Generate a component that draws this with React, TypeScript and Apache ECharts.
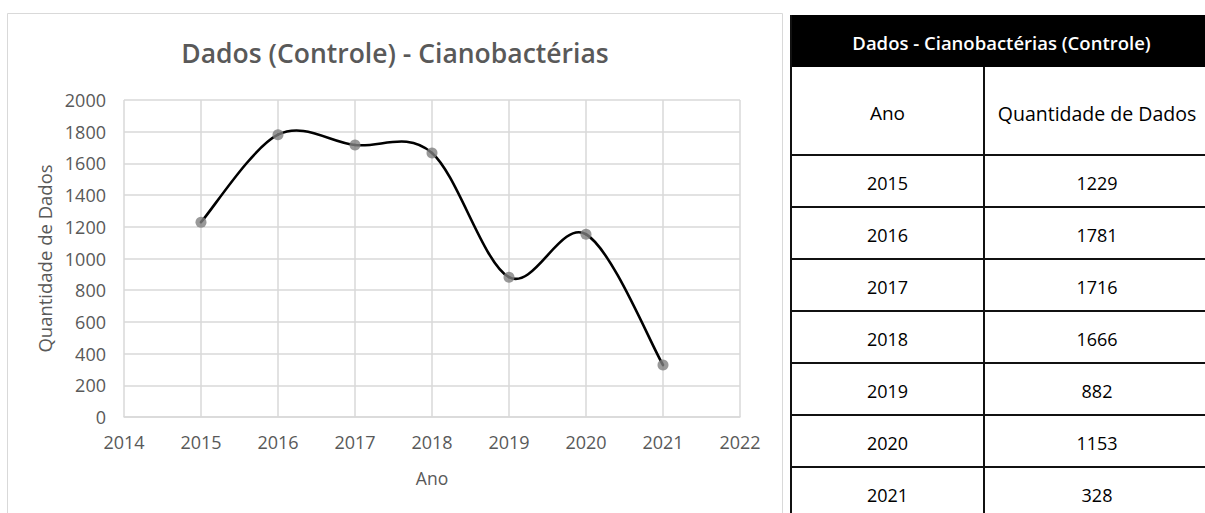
import React, { useEffect, useRef } from "react";
import * as echarts from "echarts";

// Yearly data counts (control) for cyanobacteria
const years: number[] = [2015, 2016, 2017, 2018, 2019, 2020, 2021];
const counts: number[] = [1229, 1781, 1716, 1666, 882, 1153, 328];

const chartTitle = "Dados (Controle) - Cianobactérias";
const tableTitle = "Dados - Cianobactérias (Controle)";
const xAxisName = "Ano";
const yAxisName = "Quantidade de Dados";
const tableHeaders: string[] = ["Ano", "Quantidade de Dados"];

const FONT = "'Open Sans', 'Noto Sans', sans-serif";
const GREY_TEXT = "#595959";
const GRID_GREY = "#d9d9d9";

function buildTable(): any[] {
  const left = 791;
  const right = 1216;
  const colDiv = 984;
  const top = 15;
  const headerBottom = 67;
  const labelRowBottom = 155;
  const rowH = 52;
  const bottom = 530;
  const col1 = (left + colDiv) / 2;
  const col2 = (colDiv + right) / 2 - 3;
  const els: any[] = [];

  els.push({
    type: "rect",
    shape: { x: left, y: top, width: right - left, height: headerBottom - top },
    style: { fill: "#000" },
  });
  els.push({
    type: "text",
    style: {
      text: tableTitle,
      x: (left + right) / 2 - 2,
      y: (top + headerBottom) / 2 + 1,
      align: "center",
      verticalAlign: "middle",
      textAlign: "center",
      textVerticalAlign: "middle",
      fill: "#fff",
      fontSize: 18.5,
      fontWeight: 600,
      fontFamily: FONT,
    },
  });

  const lineStyle = { stroke: "#111", lineWidth: 2 };
  els.push({ type: "line", shape: { x1: left, y1: top, x2: left, y2: bottom }, style: lineStyle });
  els.push({ type: "line", shape: { x1: colDiv, y1: headerBottom, x2: colDiv, y2: bottom }, style: lineStyle });
  els.push({ type: "line", shape: { x1: left, y1: labelRowBottom, x2: right, y2: labelRowBottom }, style: lineStyle });

  const cellText = (text: string, x: number, y: number, size: number) => ({
    type: "text",
    style: {
      text,
      x,
      y,
      align: "center",
      verticalAlign: "middle",
      textAlign: "center",
      textVerticalAlign: "middle",
      fill: "#000",
      fontSize: size,
      fontWeight: 400,
      fontFamily: FONT,
    },
  });

  const headerY = (headerBottom + labelRowBottom) / 2 + 2;
  els.push(cellText(tableHeaders[0], col1, headerY, 19));
  els.push(cellText(tableHeaders[1], col2, headerY, 19.5));

  years.forEach((yr, i) => {
    const rTop = labelRowBottom + i * rowH;
    const rBottom = rTop + rowH;
    const cy = (rTop + rBottom) / 2 + 2;
    els.push(cellText(String(yr), col1, cy, 18));
    els.push(cellText(String(counts[i]), col2, cy, 18));
    els.push({ type: "line", shape: { x1: left, y1: rBottom, x2: right, y2: rBottom }, style: lineStyle });
  });

  return els;
}

// Smoothed segment between point i and i+1 (Catmull-Rom style Bezier in pixel space)
function renderSmoothSegment(params: any, api: any) {
  const i = params.dataIndex;
  const n = years.length;
  if (i >= n - 1) return null;
  const pts = years.map((y, k) => api.coord([y, counts[k]]));
  const p0 = pts[Math.max(i - 1, 0)];
  const p1 = pts[i];
  const p2 = pts[i + 1];
  const p3 = pts[Math.min(i + 2, n - 1)];
  const t = 1 / 6;
  return {
    type: "bezierCurve",
    shape: {
      x1: p1[0],
      y1: p1[1],
      cpx1: p1[0] + (p2[0] - p0[0]) * t,
      cpy1: p1[1] + (p2[1] - p0[1]) * t,
      cpx2: p2[0] - (p3[0] - p1[0]) * t,
      cpy2: p2[1] - (p3[1] - p1[1]) * t,
      x2: p2[0],
      y2: p2[1],
    },
    style: { stroke: "#000", lineWidth: 2.6, fill: "none", lineCap: "round" },
  };
}

export default function App() {
  const ref = useRef<HTMLDivElement>(null);

  useEffect(() => {
    if (!ref.current) return;
    const chart = echarts.init(ref.current, undefined, { renderer: "svg" });
    const points = years.map((y, i) => [y, counts[i]]);

    const option: any = {
      animation: false,
      backgroundColor: "#fff",
      title: {
        text: chartTitle,
        left: 390,
        top: 34,
        textAlign: "center",
        textStyle: {
          color: GREY_TEXT,
          fontSize: 26.5,
          fontWeight: 600,
          fontFamily: FONT,
        },
      },
      grid: { left: 124, top: 100, width: 616, height: 317, containLabel: false },
      xAxis: {
        type: "value",
        min: 2014,
        max: 2022,
        interval: 1,
        name: xAxisName,
        nameLocation: "middle",
        nameGap: 52,
        nameTextStyle: { color: GREY_TEXT, fontSize: 17.5, fontFamily: FONT },
        axisLine: { show: true, lineStyle: { color: GRID_GREY, width: 1.5 } },
        axisTick: { show: false },
        axisLabel: {
          color: GREY_TEXT,
          fontSize: 18,
          fontFamily: FONT,
          margin: 16,
          formatter: (v: number) => String(v),
        },
        splitLine: { show: true, lineStyle: { color: GRID_GREY, width: 1.5 } },
      },
      yAxis: {
        type: "value",
        min: 0,
        max: 2000,
        interval: 200,
        name: yAxisName,
        nameLocation: "middle",
        nameGap: 64,
        nameTextStyle: { color: GREY_TEXT, fontSize: 18.5, fontFamily: FONT },
        axisLine: { show: false },
        axisTick: { show: false },
        axisLabel: {
          color: GREY_TEXT,
          fontSize: 18,
          fontFamily: FONT,
          margin: 18,
          formatter: (v: number) => String(v),
        },
        splitLine: { show: true, lineStyle: { color: GRID_GREY, width: 1.5 } },
      },
      series: [
        {
          type: "custom",
          data: points,
          encode: { x: 0, y: 1 },
          renderItem: renderSmoothSegment,
          z: 2,
        },
        {
          type: "scatter",
          data: points,
          symbol: "circle",
          symbolSize: 11,
          itemStyle: { color: "#808080" },
          z: 3,
        },
      ],
      graphic: [
        {
          type: "rect",
          shape: { x: 7.5, y: 13.5, width: 775, height: 600 },
          style: { fill: "none", stroke: GRID_GREY, lineWidth: 1 },
          z: -1,
        },
        ...buildTable(),
      ],
    };

    chart.setOption(option);
    return () => chart.dispose();
  }, []);

  return (
    <div
      ref={ref}
      style={{ position: "fixed", left: 0, top: 0, width: 1205, height: 513 }}
    />
  );
}
